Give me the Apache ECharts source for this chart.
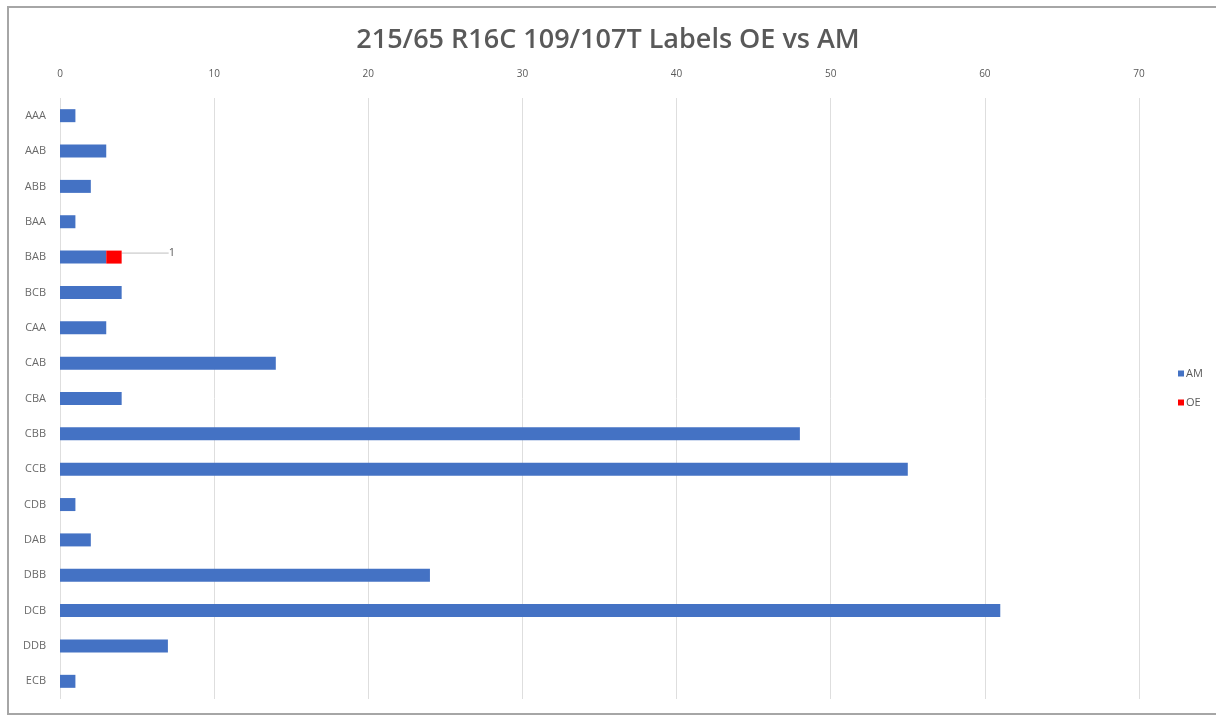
<!DOCTYPE html>
<html>
<head>
<meta charset="utf-8">
<script src="https://cdn.jsdelivr.net/npm/echarts@6/dist/echarts.min.js"></script>
<style>
  html, body { margin: 0; padding: 0; background: #fff; }
  #chart { width: 1216px; height: 716px; }
</style>
</head>
<body>
<div id="chart"></div>
<script>
// Label codes, top to bottom
const categories = ['AAA','AAB','ABB','BAA','BAB','BCB','CAA','CAB','CBA','CBB','CCB','CDB','DAB','DBB','DCB','DDB','ECB'];
// Aftermarket counts
const amValues = [1, 3, 2, 1, 3, 4, 3, 14, 4, 48, 55, 1, 2, 24, 61, 7, 1];
// Original-equipment counts (only BAB has one)
const oeValues = [null, null, null, null, 1, null, null, null, null, null, null, null, null, null, null, null, null];
const xTicks = { min: 0, max: 70, interval: 10 };

const chart = echarts.init(document.getElementById('chart'));
const grey = '#595959';
chart.setOption({
  backgroundColor: '#fff',
  animation: false,
  title: {
    text: '215/65 R16C 109/107T Labels OE vs AM',
    left: 'center',
    top: 22,
    textStyle: { fontFamily: 'Open Sans', fontSize: 27, fontWeight: 600, color: grey }
  },
  graphic: [{
    type: 'rect',
    shape: { x: 8, y: 7, width: 1215, height: 707 },
    style: { fill: 'none', stroke: '#a6a6a6', lineWidth: 2 },
    silent: true
  }],
  legend: {
    orient: 'vertical',
    left: 1173,
    top: 363,
    itemWidth: 6,
    itemHeight: 6,
    itemGap: 18,
    icon: 'rect',
    textStyle: { fontFamily: 'Open Sans', fontSize: 11, color: grey, padding: [0, 0, 0, -3] },
    data: ['AM', 'OE']
  },
  grid: { left: 60, right: 77, top: 98, bottom: 17, containLabel: false },
  xAxis: {
    type: 'value',
    position: 'top',
    min: xTicks.min,
    max: xTicks.max,
    interval: xTicks.interval,
    axisLine: { show: false },
    axisTick: { show: false },
    axisLabel: { fontFamily: 'Open Sans', fontSize: 10, color: grey, margin: 19 },
    splitLine: { lineStyle: { color: '#dedede', width: 1 } }
  },
  yAxis: {
    type: 'category',
    inverse: true,
    data: categories,
    axisLine: { show: false },
    axisTick: { show: false },
    axisLabel: { fontFamily: 'Open Sans', fontSize: 11, color: '#6a6a6a', margin: 14 }
  },
  series: [
    {
      name: 'AM',
      type: 'bar',
      stack: 'total',
      barWidth: 13,
      data: amValues,
      itemStyle: { color: '#4472C4' }
    },
    {
      name: 'OE',
      type: 'bar',
      stack: 'total',
      barWidth: 13,
      data: oeValues,
      itemStyle: { color: '#FF0000' },
      label: {
        show: true,
        position: 'right',
        fontFamily: 'Open Sans',
        fontSize: 11,
        color: grey,
        formatter: p => p.value
      },
      labelLayout: { dx: 42, dy: -4 },
      labelLine: { show: true, lineStyle: { color: '#bfbfbf', width: 1 } }
    }
  ]
});
</script>
</body>
</html>
